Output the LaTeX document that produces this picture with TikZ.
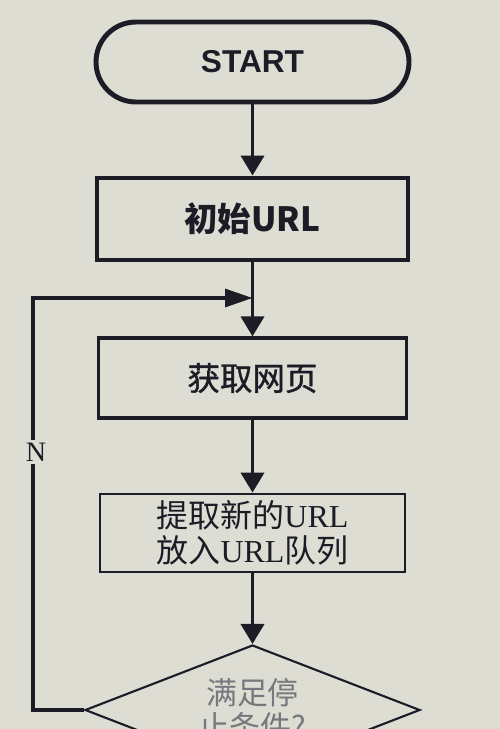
\documentclass[tikz,border=0pt]{standalone}
\usepackage{fontspec}
\setmainfont{Liberation Serif}
\setsansfont{Liberation Sans}
\newfontfamily\cjk{Noto Sans CJK SC}
\newfontfamily\cjkmid[FakeBold=1.2]{Noto Sans CJK SC}
\usetikzlibrary{shapes.geometric, arrows.meta, positioning}
\definecolor{papercolor}{RGB}{222,221,212}
\definecolor{inkcolor}{RGB}{28,28,38}

\begin{document}
\begin{tikzpicture}[
    box/.style={draw=inkcolor, line width=1.8pt, minimum width=6.2cm, minimum height=1.6cm, text=inkcolor, align=center, font=\fontsize{18.5}{20}\selectfont\cjkmid},
    arrow/.style={-{Triangle[length=0.4cm, width=0.46cm]}, line width=2.2pt, draw=inkcolor},
    backarrow/.style={-{Triangle[length=0.55cm, width=0.36cm]}, line width=1.8pt, draw=inkcolor}
]
    % paper
    \useasboundingbox (0,0) rectangle (10,-14.58);
    \fill[papercolor] (0,0) rectangle (10,-14.58);
    \clip (0,0) rectangle (10,-14.58);

    % Flow steps
    \node[box, rounded corners=0.8cm, line width=2.8pt, minimum width=6.26cm, font=\fontsize{18}{20}\selectfont\sffamily\bfseries] (start) at (5.05,-1.24) {START};
    \node[box, line width=2.8pt, minimum width=6.22cm, minimum height=1.64cm, font=\fontsize{19}{20}\selectfont\cjk\bfseries] (init) at (5.05,-4.38) {初始URL};
    \node[box, minimum width=6.16cm] (fetch) at (5.05,-7.56) {获取网页};
    \node[box, line width=1.6pt, minimum width=6.1cm, minimum height=1.56cm, font=\fontsize{18.2}{20}\selectfont] (extract) at (5.05,-10.66) {{\cjk 提取新的}URL\\{\cjk 放入}URL{\cjk 队列}};
    \node[diamond, draw=inkcolor, line width=1.2pt, aspect=2.58, minimum width=6.7cm, minimum height=2.6cm, inner sep=0pt, align=center, text=inkcolor!60, font=\fontsize{17.6}{19.5}\selectfont\cjk] (check) at (5.05,-14.2) {满足停\\止条件?};

    % Connections
    \draw[arrow] (start) -- (init);
    \draw[arrow] (init) -- (fetch);
    \draw[arrow] (fetch) -- (extract);
    \draw[arrow] (extract) -- (check);

    % Loop back
    \coordinate (back) at (0.66,-5.96);
    \coordinate (merge) at (5.05,-5.96);
    \draw[backarrow] (check.west) -| (back) -- (merge);
    \node[fill=papercolor, inner sep=1.5pt, text=inkcolor, font=\fontsize{16}{18}\selectfont] (no) at (0.72,-9.04) {N};
\end{tikzpicture}
\end{document}
